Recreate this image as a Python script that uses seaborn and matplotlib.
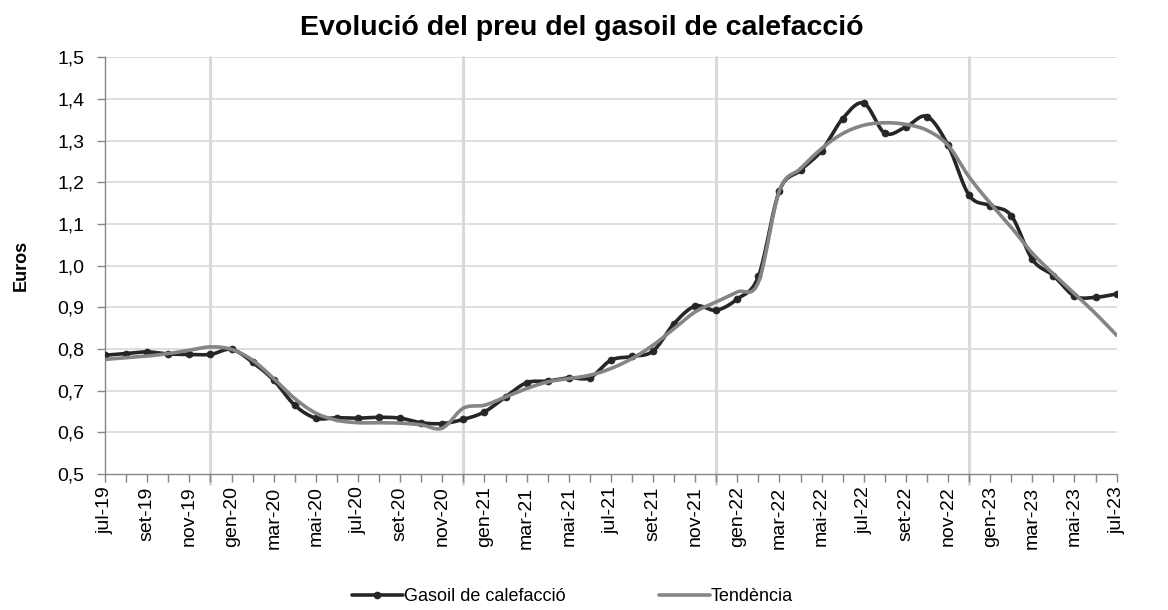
import numpy as np
import pandas as pd
import matplotlib
matplotlib.use("Agg")
import matplotlib.pyplot as plt
from matplotlib.lines import Line2D
from matplotlib.ticker import FuncFormatter, MultipleLocator
import seaborn as sns

# monthly prices, jul-19 .. jul-23
months = ["jul", "ago", "set", "oct", "nov", "des", "gen", "feb", "mar", "abr", "mai", "jun"]
price = [0.785, 0.789, 0.793, 0.788, 0.787, 0.787, 0.799, 0.768, 0.725, 0.665,
         0.634, 0.635, 0.634, 0.636, 0.634, 0.623, 0.621, 0.631, 0.649, 0.685,
         0.719, 0.723, 0.731, 0.731, 0.773, 0.782, 0.795, 0.861, 0.903, 0.893,
         0.920, 0.974, 1.180, 1.229, 1.276, 1.353, 1.390, 1.318, 1.333, 1.358,
         1.289, 1.169, 1.144, 1.120, 1.015, 0.976, 0.927, 0.924, 0.932]
trend = [0.775, 0.779, 0.783, 0.789, 0.797, 0.805, 0.799, 0.773, 0.729, 0.681,
         0.646, 0.629, 0.623, 0.623, 0.622, 0.618, 0.610, 0.658, 0.665, 0.685,
         0.705, 0.721, 0.729, 0.737, 0.753, 0.777, 0.809, 0.849, 0.889, 0.913,
         0.937, 0.960, 1.180, 1.233, 1.281, 1.317, 1.337, 1.343, 1.339, 1.325,
         1.289, 1.213, 1.150, 1.092, 1.030, 0.980, 0.933, 0.885, 0.833]

labels = []
for k in range(len(price)):
    m = months[k % 12]
    y = 19 + (k + 6) // 12
    labels.append(f"{m}-{y}")

df = pd.DataFrame({"mes": np.arange(len(price)), "Gasoil de calefacció": price, "Tendència": trend})


def smooth(xs, ys, n=20):
    # Catmull-Rom, like Excel's "smoothed line"
    xs = np.asarray(xs, float)
    ys = np.asarray(ys, float)
    px = np.concatenate([[2 * xs[0] - xs[1]], xs, [2 * xs[-1] - xs[-2]]])
    py = np.concatenate([[2 * ys[0] - ys[1]], ys, [2 * ys[-1] - ys[-2]]])
    ox, oy = [], []
    t = np.linspace(0, 1, n, endpoint=False)
    for i in range(1, len(px) - 2):
        for P, out in ((px, ox), (py, oy)):
            p0, p1, p2, p3 = P[i - 1], P[i], P[i + 1], P[i + 2]
            out.extend(0.5 * ((2 * p1) + (-p0 + p2) * t + (2 * p0 - 5 * p1 + 4 * p2 - p3) * t ** 2
                              + (-p0 + 3 * p1 - 3 * p2 + p3) * t ** 3))
    ox.append(xs[-1])
    oy.append(ys[-1])
    return np.array(ox), np.array(oy)


sns.set_style("white")
plt.rcParams["font.family"] = ["Liberation Sans", "DejaVu Sans"]
plt.rcParams["text.color"] = "black"
plt.rcParams["axes.labelcolor"] = "black"

fig, ax = plt.subplots(figsize=(11.68, 6.10), dpi=100)
fig.subplots_adjust(left=0.09, right=0.956, bottom=0.223, top=0.906)

dark = "#262626"
grey = "#858585"

for v in np.arange(0.6, 1.51, 0.1):
    ax.axhline(v, color="#d9d9d9", lw=1.2, zorder=0)
for k in [5, 17, 29, 41]:
    ax.axvline(k, ymin=-0.025, ymax=1, color="#d9d9d9", lw=2.2, zorder=0, clip_on=False)

sx, sy = smooth(df["mes"], df["Gasoil de calefacció"])
sns.lineplot(x=sx, y=sy, ax=ax, color=dark, lw=2.6, zorder=3)
sns.scatterplot(data=df, x="mes", y="Gasoil de calefacció", ax=ax, color=dark, s=26,
                edgecolor=dark, zorder=4)
tx, ty = smooth(df["mes"], df["Tendència"])
sns.lineplot(x=tx, y=ty, ax=ax, color=grey, lw=2.6, zorder=5)

ax.set_xlim(0, len(price) - 1)
ax.set_ylim(0.5, 1.5)
ax.yaxis.set_major_locator(MultipleLocator(0.1))
ax.yaxis.set_major_formatter(FuncFormatter(lambda v, p: f"{v:.1f}".replace(".", ",")))
ax.set_xticks(df["mes"][::2])
ax.set_xticklabels(labels[::2], rotation=90, fontsize=14)
ax.set_xticks(df["mes"], minor=True)
ax.tick_params(axis="x", which="both", direction="out", length=6, color="#868686", width=1,
               bottom=True, labelcolor="black", pad=3)
ax.tick_params(axis="y", direction="out", length=6, color="#868686", width=1, left=True,
               labelsize=14, labelcolor="black", pad=9)
for s in ["top", "right"]:
    ax.spines[s].set_visible(False)
for s in ["left", "bottom"]:
    ax.spines[s].set_color("#868686")
    ax.spines[s].set_linewidth(1)

ax.set_xlabel("")
ax.set_ylabel("Euros", fontsize=13, fontweight="bold", labelpad=20)
fig.suptitle("Evolució del preu del gasoil de calefacció", fontsize=20.5, fontweight="bold",
             x=0.498, y=0.975)

handles = [Line2D([], [], color=dark, lw=2.6, marker="o", markersize=4.5),
           Line2D([], [], color=grey, lw=2.6)]
fig.legend(handles, ["Gasoil de calefacció", "Tendència"], loc="center",
           bbox_to_anchor=(0.49, 0.022), ncol=2, frameon=False, fontsize=13,
           handlelength=2.8, handletextpad=0.05, columnspacing=5.2)

fig.savefig("out.png", dpi=100)
